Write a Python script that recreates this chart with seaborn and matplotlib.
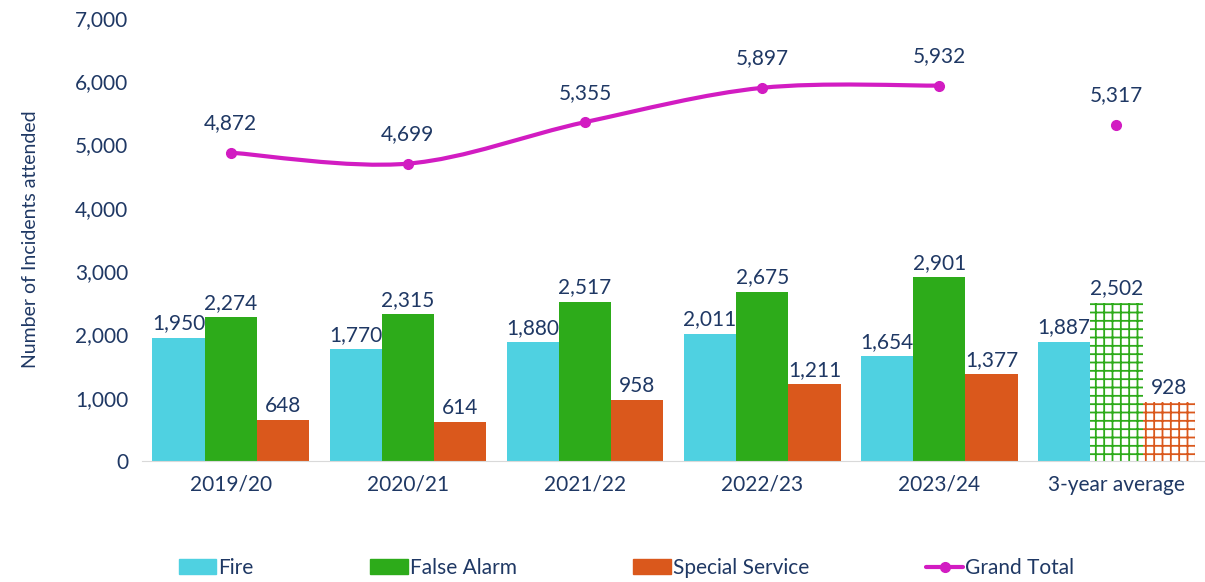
import matplotlib
matplotlib.use('Agg')
import matplotlib.pyplot as plt
import seaborn as sns
import pandas as pd
from matplotlib.path import Path
from matplotlib.patches import PathPatch

years = ['2019/20', '2020/21', '2021/22', '2022/23', '2023/24', '3-year average']
fire = [1950, 1770, 1880, 2011, 1654, 1887]
false_alarm = [2274, 2315, 2517, 2675, 2901, 2502]
special = [648, 614, 958, 1211, 1377, 928]
grand_total = [4872, 4699, 5355, 5897, 5932]
avg_total = 5317

navy = '#1F3864'
colors = {'Fire': '#4FD1E1', 'False Alarm': '#2DAB1A', 'Special Service': '#DA581C'}
magenta = '#D21CC2'

df = pd.DataFrame({'year': years * 3,
                   'type': ['Fire'] * 6 + ['False Alarm'] * 6 + ['Special Service'] * 6,
                   'count': fire + false_alarm + special})

sns.set_style('white')
plt.rcParams['font.family'] = ['Lato', 'DejaVu Sans']
plt.rcParams['hatch.linewidth'] = 1.3

fig = plt.figure(figsize=(12.05, 5.82), dpi=100)
ax = fig.add_axes([0.118, 0.208, 0.882, 0.761])

sns.barplot(data=df, x='year', y='count', hue='type', palette=colors,
            width=0.885, gap=0, saturation=1, linewidth=0, ax=ax, legend=False)

# brick-style fill for the 3-year average bars
for cont, name in zip(ax.containers[1:], ['False Alarm', 'Special Service']):
    p = cont.patches[-1]
    p.set_facecolor('white')
    p.set_edgecolor(colors[name])
    p.set_hatch('++')
    p.set_linewidth(0)

# data labels on bars
for cont in ax.containers:
    ax.bar_label(cont, labels=[f'{v:,.0f}' for v in cont.datavalues],
                 padding=3, fontsize=15, color=navy)

# smoothed grand total line (Catmull-Rom -> cubic bezier)
xs = list(range(len(grand_total)))
pts = list(zip(xs, grand_total))
verts = [pts[0]]
codes = [Path.MOVETO]
for i in range(len(pts) - 1):
    p0 = pts[i - 1] if i > 0 else pts[i]
    p1 = pts[i]
    p2 = pts[i + 1]
    p3 = pts[i + 2] if i + 2 < len(pts) else pts[i + 1]
    c1 = (p1[0] + (p2[0] - p0[0]) / 6, p1[1] + (p2[1] - p0[1]) / 6)
    c2 = (p2[0] - (p3[0] - p1[0]) / 6, p2[1] - (p3[1] - p1[1]) / 6)
    verts += [c1, c2, p2]
    codes += [Path.CURVE4] * 3
ax.add_patch(PathPatch(Path(verts, codes), facecolor='none', edgecolor=magenta,
                       lw=3, zorder=4))
ax.plot(xs, grand_total, 'o', color=magenta, ms=7, zorder=5)
ax.plot([5], [avg_total], 'o', color=magenta, ms=7, zorder=5)
for x, v in zip(xs + [5], grand_total + [avg_total]):
    ax.annotate(f'{v:,}', (x, v), xytext=(0, 14), textcoords='offset points',
                ha='center', va='bottom', fontsize=15, color=navy)

ax.set_ylim(0, 7000)
ax.set_xlim(-0.5, 5.5)
ax.set_yticks(range(0, 7001, 1000))
ax.set_yticklabels([f'{v:,}' for v in range(0, 7001, 1000)])
ax.set_xlabel('')
ax.set_ylabel('Number of Incidents attended', fontsize=14, color=navy, labelpad=26)
ax.tick_params(axis='both', labelsize=15, labelcolor=navy, length=0, pad=10)
for s in ['top', 'right', 'left']:
    ax.spines[s].set_visible(False)
ax.spines['bottom'].set_color('#D9D9D9')

handles = [plt.Rectangle((0, 0), 1, 1, color=colors[k]) for k in colors]
handles.append(plt.Line2D([], [], color=magenta, lw=3, marker='o', ms=7))
fig.legend(handles, list(colors) + ['Grand Total'], loc='lower center',
           bbox_to_anchor=(0.52, -0.025), ncol=4, frameon=False, fontsize=15,
           labelcolor=navy, columnspacing=5.6, handlelength=1.8, handletextpad=0.1)

fig.savefig('out.png', dpi=100)
